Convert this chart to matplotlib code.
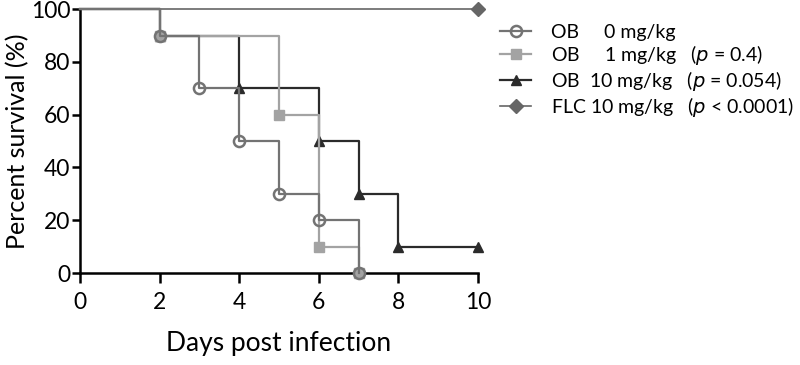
import numpy as np
import matplotlib
matplotlib.use("Agg")
import matplotlib.pyplot as plt

plt.rcParams['font.family'] = ['Lato', 'DejaVu Sans']

# Kaplan-Meier steps (days, percent survival)
ob0_days = [0, 2, 3, 4, 5, 6, 7]
ob0_surv = [100, 90, 70, 50, 30, 20, 0]

ob1_days = [0, 2, 5, 6, 7]
ob1_surv = [100, 90, 60, 10, 0]

ob10_days = [0, 2, 4, 6, 7, 8, 10]
ob10_surv = [100, 90, 70, 50, 30, 10, 10]

flc_days = [0, 10]
flc_surv = [100, 100]

labels = [
    "OB     0 mg/kg",
    "OB     1 mg/kg   ($\\it{p}$ = 0.4)",
    "OB  10 mg/kg   ($\\it{p}$ = 0.054)",
    "FLC 10 mg/kg   ($\\it{p}$ < 0.0001)",
]

fig = plt.figure(figsize=(8, 3.65), dpi=100)
ax = fig.add_axes([0.1, 0.252, 0.4975, 0.723])

lw = 1.6
h_flc, = ax.step(flc_days, flc_surv, where='post', color='#666666', lw=1.2,
                 marker='D', ms=7, markevery=[1], clip_on=False, zorder=2)
h10, = ax.step(ob10_days, ob10_surv, where='post', color='#2b2b2b', lw=lw,
               marker='^', ms=7, markevery=slice(1, None), clip_on=False, zorder=3)
h1, = ax.step(ob1_days, ob1_surv, where='post', color='#a3a3a3', lw=lw,
              marker='s', ms=7, markevery=slice(1, None), clip_on=False, zorder=4)
h0, = ax.step(ob0_days, ob0_surv, where='post', color='#737373', lw=lw,
              marker='o', ms=8, mfc='none', mew=1.8, markevery=slice(1, None),
              clip_on=False, zorder=5)

ax.set_xlim(0, 10)
ax.set_ylim(0, 100)
ax.set_xticks([0, 2, 4, 6, 8, 10])
ax.set_yticks([0, 20, 40, 60, 80, 100])
for s in ['top', 'right']:
    ax.spines[s].set_visible(False)
for s in ['left', 'bottom']:
    ax.spines[s].set_linewidth(1.8)
    ax.spines[s].set_color('black')
ax.tick_params(width=1.8, length=6, labelsize=16.5, direction='out')
ax.tick_params(axis='x', length=7.5, pad=6)
ax.tick_params(axis='y', pad=1)
ax.set_xlabel("Days post infection", fontsize=19, labelpad=13)
ax.set_ylabel("Percent survival (%)", fontsize=18, labelpad=1)

ax.legend([h0, h1, h10, h_flc], labels, loc='upper left',
          bbox_to_anchor=(0.625, 0.935), bbox_transform=fig.transFigure,
          frameon=False, fontsize=14, handlelength=1.6, handletextpad=1.0,
          labelspacing=0.1, borderpad=0, borderaxespad=0)

fig.savefig("out.png", dpi=100)
